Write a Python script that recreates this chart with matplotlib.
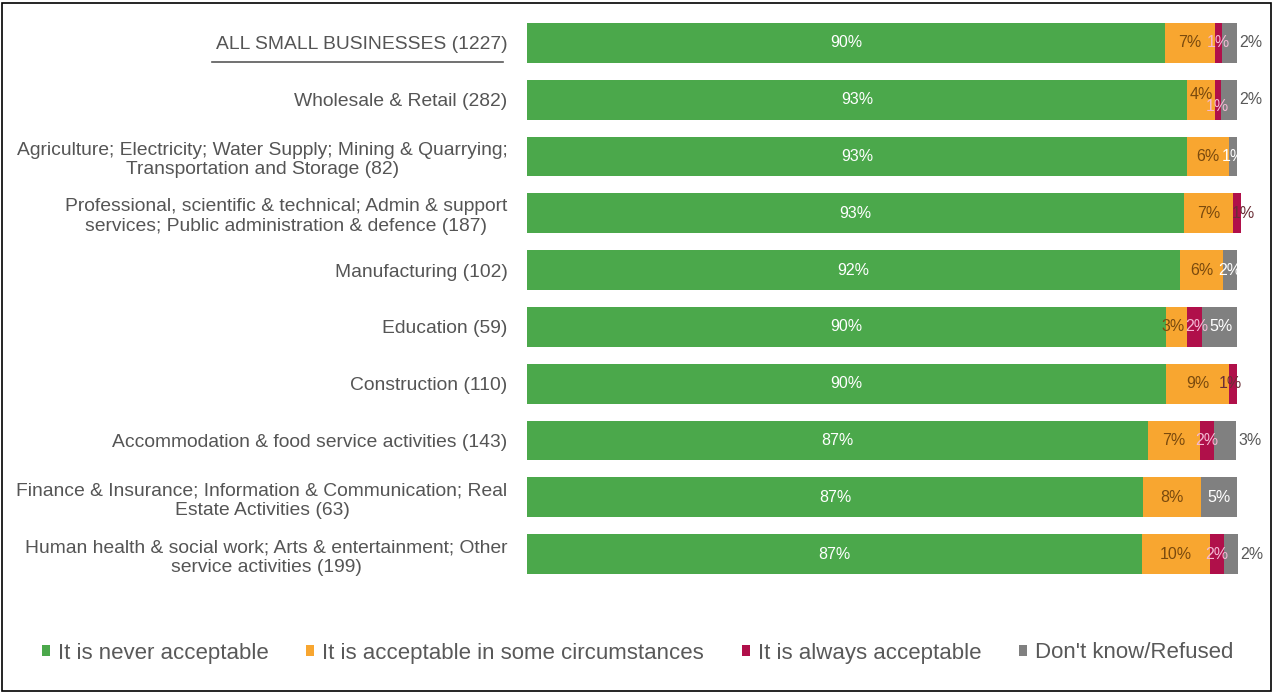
import matplotlib
matplotlib.use("Agg")
import matplotlib.pyplot as plt
from matplotlib.patches import Patch, Rectangle
from matplotlib.lines import Line2D

plt.rcParams['font.family'] = ['Liberation Sans', 'DejaVu Sans']

categories = [
    "ALL SMALL BUSINESSES (1227)",
    "Wholesale & Retail (282)",
    "Agriculture; Electricity; Water Supply; Mining & Quarrying;\nTransportation and Storage (82)",
    "Professional, scientific & technical; Admin & support\nservices; Public administration & defence (187)",
    "Manufacturing (102)",
    "Education (59)",
    "Construction (110)",
    "Accommodation & food service activities (143)",
    "Finance & Insurance; Information & Communication; Real\nEstate Activities (63)",
    "Human health & social work; Arts & entertainment; Other\nservice activities (199)",
]
never = [89.9, 93.0, 93.0, 92.6, 92.0, 90.0, 90.0, 87.4, 86.8, 86.6]
some = [7.0, 3.9, 5.9, 6.9, 6.0, 3.0, 8.9, 7.4, 8.1, 9.6]
always = [1.0, 0.8, 0.0, 1.1, 0.0, 2.1, 1.1, 2.0, 0.0, 1.9]
dontknow = [2.1, 2.3, 1.1, 0.0, 2.0, 4.9, 0.0, 3.1, 5.1, 2.0]
series_names = ["It is never acceptable", "It is acceptable in some circumstances",
                "It is always acceptable", "Don't know/Refused"]

colors = ["#4BA84B", "#F8A630", "#B0104A", "#808080"]
label_colors = ["white", "#7A4A0E", "#F4B8D4", "white"]
outside_gray_rows = {0, 1, 7, 9}
dark_crimson_rows = {3, 6}
# (dx in data units, dy in row units) nudges for crowded labels
label_offsets = {(1, 1): (0, -0.1), (1, 2): (0, 0.12),
                 (5, 1): (-0.45, 0), (5, 2): (0.35, 0), (5, 3): (0.2, 0),
                 (3, 2): (0.8, 0), (6, 2): (-0.4, 0)}

fig = plt.figure(figsize=(12.74, 6.93), dpi=100)
ax = fig.add_axes([527/1274, 1-582.4/693, 710/1274, (582.4-14.6)/693])

data = [never, some, always, dontknow]
n = len(categories)
ys = list(range(n))
left = [0.0]*n
for s, vals in enumerate(data):
    ax.barh(ys, vals, left=left, height=0.7, color=colors[s], label=series_names[s],
            clip_on=False)
    for i, v in enumerate(vals):
        if v <= 0:
            continue
        x = left[i] + v/2
        col = label_colors[s]
        if s == 3 and i in outside_gray_rows:
            x = left[i] + v + 2.0
            col = "#595959"
        if s == 2 and i in dark_crimson_rows:
            col = "#6B2E36"
        dx, dy = label_offsets.get((i, s), (0, 0))
        ax.text(x + dx, i + dy, f"{v:.0f}%", ha="center", va="center", fontsize=11.5,
                color=col, clip_on=False)
    left = [l + v for l, v in zip(left, vals)]

ax.set_xlim(0, 100)
ax.set_ylim(n - 0.5, -0.5)
ax.set_yticks(ys)
ax.set_yticklabels(categories, fontsize=13.9, color="#555555", multialignment="center")
ax.tick_params(axis="y", length=0, pad=14)
ax.set_xticks([])
for sp in ax.spines.values():
    sp.set_visible(False)

# underline for the total row
fig.add_artist(Line2D([212/1274, 503/1274], [1-62/693, 1-62/693], color="#595959", lw=1.2))

handles = [Patch(facecolor=c, edgecolor="none") for c in colors]
fig.legend(handles, series_names, loc="center", bbox_to_anchor=(0.5004, 1-653/693),
           ncol=4, frameon=False, fontsize=16, handlelength=0.36, handleheight=0.36,
           handletextpad=0.36, columnspacing=1.7, labelcolor="#595959")

fig.add_artist(Rectangle((0.0015, 0.003), 0.996, 0.993, transform=fig.transFigure,
                         fill=False, edgecolor="black", lw=1.2))

fig.savefig("out.png", dpi=100)
